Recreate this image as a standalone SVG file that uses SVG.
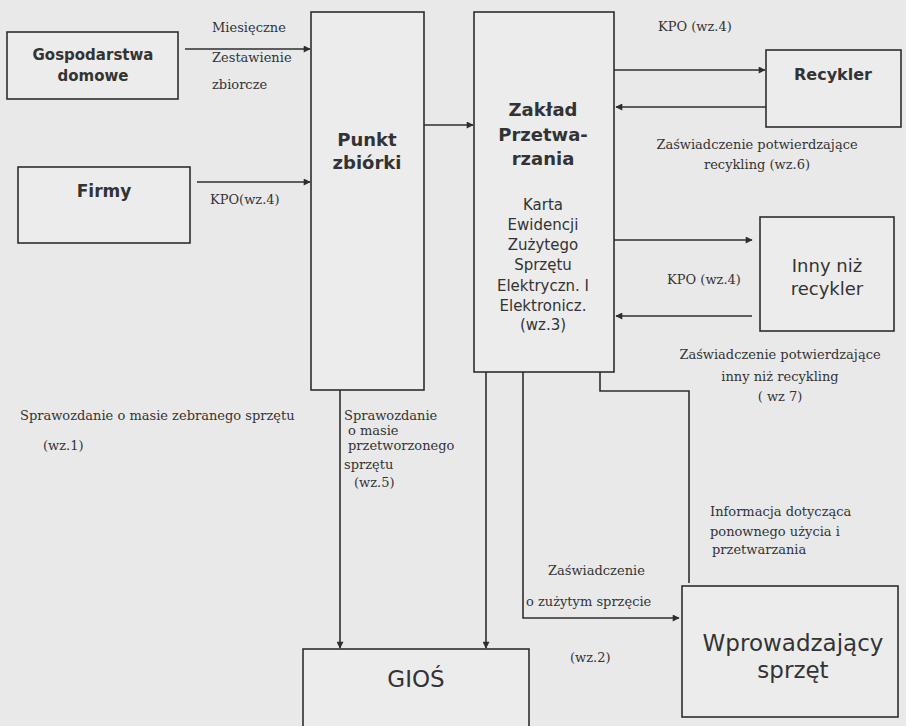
<svg xmlns="http://www.w3.org/2000/svg" width="906" height="726" viewBox="0 0 906 726">
<style>
  .box { fill: #ececec; stroke: #2e2e2e; stroke-width: 1.6; }
  .bl { font-family: "DejaVu Sans", Verdana, sans-serif; fill: #333; text-anchor: middle; }
  .b { font-weight: bold; }
  .el { font-family: "DejaVu Serif", "Liberation Serif", serif; font-size: 13px; fill: #333; }
  .c { text-anchor: middle; }
  .ln { fill: none; stroke: #2e2e2e; stroke-width: 1.6; }
</style>
<defs>
  <marker id="ah" viewBox="0 0 10 10" refX="9" refY="5" markerWidth="8" markerHeight="7" markerUnits="userSpaceOnUse" orient="auto">
    <path d="M0,0 L10,5 L0,10 z" fill="#2e2e2e"/>
  </marker>
</defs>
<rect x="0" y="0" width="906" height="726" fill="#e9e9e9"/>

<g id="connectors">
  <line class="ln" x1="185" y1="49" x2="310" y2="49" marker-end="url(#ah)"/>
  <line class="ln" x1="197" y1="182" x2="310" y2="182" marker-end="url(#ah)"/>
  <line class="ln" x1="424" y1="125" x2="473" y2="125" marker-end="url(#ah)"/>
  <line class="ln" x1="614" y1="70" x2="765" y2="70" marker-end="url(#ah)"/>
  <line class="ln" x1="766" y1="107" x2="616" y2="107" marker-end="url(#ah)"/>
  <line class="ln" x1="614" y1="240" x2="752" y2="240" marker-end="url(#ah)"/>
  <line class="ln" x1="752" y1="316" x2="616" y2="316" marker-end="url(#ah)"/>
  <line class="ln" x1="340" y1="390" x2="340" y2="648" marker-end="url(#ah)"/>
  <line class="ln" x1="486" y1="372" x2="486" y2="648" marker-end="url(#ah)"/>
  <polyline class="ln" points="523,372 523,618 679,618" marker-end="url(#ah)"/>
  <polyline class="ln" points="600,372 600,391 689,391 689,583"/>
</g>

<g id="gospodarstwa">
  <rect class="box" x="7" y="32" width="171" height="67"/>
  <text class="bl b" x="93" y="60" font-size="15">Gospodarstwa</text>
  <text class="bl b" x="93" y="81" font-size="15">domowe</text>
</g>
<g id="firmy">
  <rect class="box" x="18" y="167" width="172" height="76"/>
  <text class="bl b" x="104" y="197" font-size="17">Firmy</text>
</g>
<g id="punkt">
  <rect class="box" x="311" y="12" width="113" height="378"/>
  <text class="bl b" x="367" y="146" font-size="18">Punkt</text>
  <text class="bl b" x="367" y="169" font-size="18">zbiórki</text>
</g>
<g id="zaklad">
  <rect class="box" x="474" y="12" width="140" height="360"/>
  <text class="bl b" x="543" y="116" font-size="18">Zakład</text>
  <text class="bl b" x="543" y="141" font-size="18">Przetwa-</text>
  <text class="bl b" x="543" y="165" font-size="18">rzania</text>
  <text class="bl" x="543" y="210" font-size="15">Karta</text>
  <text class="bl" x="543" y="230" font-size="15">Ewidencji</text>
  <text class="bl" x="543" y="250" font-size="15">Zużytego</text>
  <text class="bl" x="543" y="270" font-size="15">Sprzętu</text>
  <text class="bl" x="543" y="291" font-size="15">Elektryczn. I</text>
  <text class="bl" x="543" y="311" font-size="15">Elektronicz.</text>
  <text class="bl" x="543" y="330" font-size="15">(wz.3)</text>
</g>
<g id="recykler">
  <rect class="box" x="766" y="50" width="135" height="77"/>
  <text class="bl b" x="833" y="80" font-size="16">Recykler</text>
</g>
<g id="inny">
  <rect class="box" x="760" y="217" width="134" height="114"/>
  <text class="bl" x="827" y="272" font-size="18">Inny niż</text>
  <text class="bl" x="827" y="295" font-size="18">recykler</text>
</g>
<g id="gios">
  <rect class="box" x="303" y="649" width="226" height="90"/>
  <text class="bl" x="416" y="687" font-size="23">GIOŚ</text>
</g>
<g id="wprowadzajacy">
  <rect class="box" x="682" y="586" width="216" height="131"/>
  <text class="bl" x="793" y="651" font-size="23">Wprowadzający</text>
  <text class="bl" x="793" y="678" font-size="23">sprzęt</text>
</g>

<g id="labels">
  <text class="el" x="212" y="32">Miesięczne</text>
  <text class="el" x="212" y="62">Zestawienie</text>
  <text class="el" x="212" y="89">zbiorcze</text>
  <text class="el" x="210" y="204">KPO(wz.4)</text>
  <text class="el" x="658" y="31">KPO (wz.4)</text>
  <text class="el c" x="757" y="149">Zaświadczenie potwierdzające</text>
  <text class="el c" x="757" y="169">recykling (wz.6)</text>
  <text class="el c" x="704" y="284">KPO (wz.4)</text>
  <text class="el c" x="780" y="359">Zaświadczenie potwierdzające</text>
  <text class="el c" x="780" y="381">inny niż recykling</text>
  <text class="el c" x="780" y="401">( wz 7)</text>
  <text class="el" x="20" y="420">Sprawozdanie o masie zebranego sprzętu</text>
  <text class="el" x="43" y="450">(wz.1)</text>
  <text class="el" x="344" y="420">Sprawozdanie</text>
  <text class="el" x="348" y="435">o masie</text>
  <text class="el" x="348" y="450">przetworzonego</text>
  <text class="el" x="344" y="469">sprzętu</text>
  <text class="el" x="354" y="487">(wz.5)</text>
  <text class="el" x="710" y="516">Informacja dotycząca</text>
  <text class="el" x="710" y="536">ponownego użycia i</text>
  <text class="el" x="712" y="554">przetwarzania</text>
  <text class="el" x="548" y="575">Zaświadczenie</text>
  <text class="el" x="526" y="606">o zużytym sprzęcie</text>
  <text class="el" x="570" y="662">(wz.2)</text>
</g>
</svg>
